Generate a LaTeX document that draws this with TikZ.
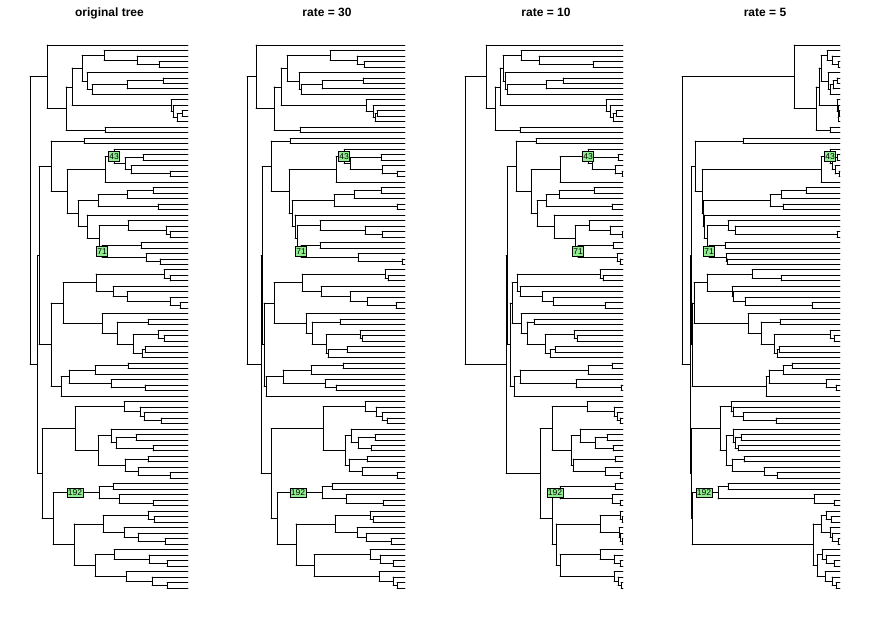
\documentclass[tikz,border=0pt]{standalone}
\usepackage{fontspec}
\setmainfont{Liberation Sans}
\usetikzlibrary{calc}
\definecolor{lblgreen}{HTML}{90EE90}
\tikzset{
  branch/.style={line width=0.8pt, line cap=round},
  nodelbl/.style={draw, fill=lblgreen, line width=0.5pt, inner xsep=0.8pt, inner ysep=0pt,
    minimum height=9.5pt, font=\fontsize{8.5}{8.5}\selectfont},
  paneltitle/.style={anchor=base, font=\fontsize{12}{14}\selectfont\bfseries}
}

\def\getfirst#1,#2\relax{#1}
\newcommand\pnl{1}
\newcommand\pfx{p1-}
\newcommand\px{30}
\newcommand\dep{0}
\newcommand\cfirst{}
\newcommand\clast{}

% one internal node: name, children (top to bottom), depth in each of the 4 panels
\newcommand\clade[6]{%
  \edef\dep{\ifcase\pnl\or#3\or#4\or#5\or#6\fi}%
  \edef\cfirst{\getfirst#2,\relax}%
  \foreach \ch in {#2}{\xdef\clast{\ch}}%
  \path let \p1=(\pfx\cfirst), \p2=(\pfx\clast) in
    coordinate (\pfx#1) at ({(\px+\dep)*1pt}, {(\y1+\y2)/2});
  \draw[branch] (\pfx#1 |- \pfx\cfirst) -- (\pfx#1 |- \pfx\clast);
  \foreach \ch in {#2}{\draw[branch] (\pfx#1 |- \pfx\ch) -- (\pfx\ch);}%
}

\newcommand\treebody{%
  % top clade
  \clade{H}{t4,t5}{129}{117}{128}{156}
  \clade{G}{t3,H}{107}{110}{74}{150}
  \clade{F}{t2,G}{74}{83}{56}{145}
  \clade{L}{t7,t8}{133}{116}{98}{155}
  \clade{K}{L,t9}{97}{75}{81}{151}
  \clade{J}{K,t10}{62}{54}{42}{148}
  \clade{I}{t6,J}{57}{52}{40}{146}
  \clade{E}{F,I}{52}{40}{38}{139}
  \clade{Da}{t13,t14}{152}{130}{151}{157}
  \clade{Db}{Da,t15}{147}{128}{148}{156.5}
  \clade{Dc}{t12,Db}{143}{126}{145}{156}
  \clade{D}{t11,Dc}{141}{119}{141}{155}
  \clade{C}{E,D}{42}{34}{35}{137}
  \clade{M}{t16,t17}{75}{53}{55}{148}
  \clade{B}{C,M}{36}{27}{30}{134}
  \clade{A}{t1,B}{17}{9}{21}{112}
  % clade with 43 and 71
  \clade{U}{t18,t19}{54}{43}{71}{61}
  \clade{Wc}{t21,t22}{113}{134}{153}{155}
  \clade{We}{t24,t25}{140}{150}{157}{157}
  \clade{Wd}{t23,We}{101}{135}{150}{153}
  \clade{Wb}{Wc,Wd}{95}{103}{127}{150}
  \clade{N43}{t20,Wb}{84}{97}{123}{148}
  \clade{W}{N43,t26}{75}{89}{95}{139}
  \clade{Ya}{t27,t28}{123}{134}{129}{124}
  \clade{Yb}{Ya,t29}{97}{107}{94}{99}
  \clade{Yc}{t30,t31}{128}{150}{147}{101}
  \clade{Y1}{Yb,Yc}{68}{87}{81}{88}
  \clade{Ve}{t35,t36}{140}{135}{157}{155}
  \clade{Vd}{t34,Ve}{136}{118}{145}{53}
  \clade{Vc}{t33,Vd}{98}{73}{124}{46}
  \clade{Va}{t37,t38}{111}{73}{148}{43}
  \clade{Vg}{t40,t41}{130}{155}{155}{45}
  \clade{Vf}{t39,Vg}{116}{111}{152}{44}
  \clade{N71}{Va,Vf}{72}{54}{113}{27}
  \clade{N70}{Vc,N71}{69}{50}{110}{25}
  \clade{Y2}{t32,N70}{57}{48}{89}{22}
  \clade{Y}{Y1,Y2}{48}{45}{72}{21}
  \clade{V}{W,Y}{37}{42}{66}{20}
  \clade{T}{U,V}{21}{24}{51}{13}
  % middle clade
  \clade{Pb}{t43,t44}{140}{141}{138}{99}
  \clade{P1}{t42,Pb}{134}{138}{135}{70}
  \clade{Pe}{t48,t49}{150}{149}{140}{130}
  \clade{Pd}{t47,Pe}{140}{120}{88}{63}
  \clade{Pc}{t46,Pd}{97}{103}{77}{51}
  \clade{P2}{t45,Pc}{83}{74}{55}{50}
  \clade{X1a}{P1,P2}{66}{55}{52}{25}
  \clade{Qa}{t51,t52}{118}{93}{69}{98}
  \clade{Qd}{t54,t55}{134}{115}{112}{152}
  \clade{Q3}{t53,Qd}{128}{113}{109}{148}
  \clade{Q4}{t56,t57}{115}{100}{90}{97}
  \clade{Qb}{Q4,t58}{112}{81}{85}{95}
  \clade{Q2}{Q3,Qb}{103}{79}{80}{92}
  \clade{Q1}{Qa,Q2}{87}{65}{62}{79}
  \clade{X1b}{t50,Q1}{72}{59}{56}{66}
  \clade{X1}{X1a,X1b}{33}{27}{47}{12}
  \clade{Xd}{t59,t60}{98}{96}{147}{110}
  \clade{Xb}{Xd,t61}{65}{64}{123}{101}
  \clade{Xe}{t63,t64}{115}{89}{156}{154}
  \clade{Xc}{t62,Xe}{81}{78}{111}{144}
  \clade{Xa}{Xb,Xc}{39}{36}{55}{87}
  \clade{X2}{Xa,t65}{31}{19}{49}{84}
  \clade{X}{X1,X2}{21}{17}{45}{10}
  \clade{S}{T,X}{9}{15}{42}{9.5}
  % bottom clade with 192
  \clade{Zh}{t69,t70}{131}{140}{155}{94}
  \clade{Zg}{t68,Zh}{114}{135}{152}{61}
  \clade{Zc}{t67,Zg}{110}{129}{149}{51}
  \clade{Za}{t66,Zc}{94}{118}{122}{49}
  \clade{Zi}{t72,t73}{106}{128}{142}{59}
  \clade{Zj}{t74,t75}{123}{124}{148}{56}
  \clade{Zf}{Zi,Zj}{86}{111}{130}{53}
  \clade{Zd}{t71,Zf}{81}{104}{115}{51}
  \clade{Zk}{t76,t77}{118}{120}{150}{62}
  \clade{Zm}{t79,t80}{140}{150}{155}{95}
  \clade{Zl}{t78,Zm}{108}{115}{140}{82}
  \clade{Ze}{Zk,Zl}{95}{102}{108}{50}
  \clade{Zb}{Zd,Ze}{68}{98}{106}{44}
  \clade{Z1}{Za,Zb}{45}{76}{87}{38}
  \clade{Nb}{t81,t82}{83}{85}{150}{46}
  \clade{Nd}{t84,t85}{123}{136}{155}{152}
  \clade{Nc}{t83,Nd}{89}{99}{147}{132}
  \clade{Na}{Nb,Nc}{69}{75}{95}{36}
  \clade{N192}{Na}{45}{51}{90}{22}
  \clade{Zf3}{t87,t88}{124}{126}{157}{149}
  \clade{Zc3}{t86,Zf3}{118}{123}{155}{144}
  \clade{Zg3}{t91,t92}{135}{144}{157}{156}
  \clade{Ze3}{t90,Zg3}{108}{119}{155}{150}
  \clade{Zd3}{t89,Ze3}{94}{110}{154}{148}
  \clade{Za3}{Zc3,Zd3}{73}{88}{135}{139}
  \clade{Zj3}{t95,t96}{137}{146}{155}{152}
  \clade{Zi3}{t94,Zj3}{119}{133}{149}{144}
  \clade{Zh3}{t93,Zi3}{84}{123}{135}{140}
  \clade{Zp3}{t99,t100}{137}{150}{156}{154}
  \clade{Zo3}{t98,Zp3}{122}{146}{153}{150}
  \clade{Zn3}{t97,Zo3}{96}{132}{149}{143}
  \clade{Zb3}{Zh3,Zn3}{65}{67}{95}{135}
  \clade{Z3}{Za3,Zb3}{44}{49}{91}{131}
  \clade{Z2}{N192,Z3}{23}{30}{87}{10}
  \clade{Z}{Z1,Z2}{12}{24}{75}{9.2}
  \clade{R2}{S,Z}{7.5}{14}{41}{8.7}
  \clade{R}{A,R2}{0}{0}{0}{0}
}

% panel number, x of the root
\newcommand\drawtree[2]{%
  \def\pnl{#1}\def\pfx{p#1-}\def\px{#2}%
  \foreach \i in {1,...,100}{\coordinate (\pfx t\i) at ({#2+158},{45+(\i-1)*5.485});}%
  \treebody
  \node[nodelbl] (\pfx l43) at (\pfx N43) {43};
  \node[nodelbl] (\pfx l71) at (\pfx N71) {71};
  \node[nodelbl] (\pfx l192) at (\pfx N192) {192};
}

\begin{document}
\begin{tikzpicture}[x=1pt, y=-1pt]
  \fill[white] (0,0) rectangle (870,631);
  \useasboundingbox (0,0) rectangle (870,631);
  \drawtree{1}{30}
  \drawtree{2}{247}
  \drawtree{3}{465}
  \drawtree{4}{682}
  \node[paneltitle] (ttl1) at (109.5,16.5) {original tree};
  \node[paneltitle] (ttl2) at (327,16.5) {rate = 30};
  \node[paneltitle] (ttl3) at (546,16.5) {rate = 10};
  \node[paneltitle] (ttl4) at (765,16.5) {rate = 5};
\end{tikzpicture}
\end{document}
